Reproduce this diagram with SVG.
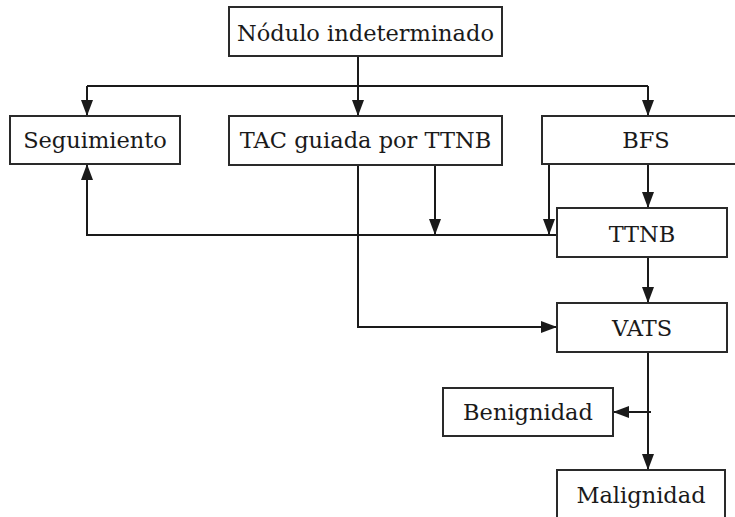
<svg xmlns="http://www.w3.org/2000/svg" width="735" height="517" viewBox="0 0 735 517">
  <defs>
    <marker id="arrow" viewBox="0 0 16 12" refX="16" refY="6" markerWidth="16" markerHeight="12" markerUnits="userSpaceOnUse" orient="auto">
      <path d="M0,0 L16,6 L0,12 Z" fill="#1a1a1a"/>
    </marker>
    <style>
      .box { fill: #ffffff; stroke: #2a2a2a; stroke-width: 2; }
      .lbl { font-family: "DejaVu Serif", "Liberation Serif", serif; font-size: 22.5px; fill: #1a1a1a; text-anchor: middle; }
      .wire { fill: none; stroke: #1a1a1a; stroke-width: 2; }
      .arr { marker-end: url(#arrow); }
    </style>
  </defs>
  <rect width="735" height="517" fill="#ffffff"/>

  <!-- connectors -->
  <g id="connectors">
    <line class="wire" x1="358" y1="56" x2="358" y2="86"/>
    <line class="wire" x1="87" y1="86" x2="648" y2="86"/>
    <line class="wire arr" x1="87" y1="86" x2="87" y2="116"/>
    <line class="wire arr" x1="358" y1="86" x2="358" y2="116"/>
    <line class="wire arr" x1="648" y1="86" x2="648" y2="116"/>
    <line class="wire arr" x1="435" y1="165" x2="435" y2="235"/>
    <line class="wire arr" x1="549" y1="164" x2="549" y2="235"/>
    <line class="wire arr" x1="648" y1="164" x2="648" y2="208"/>
    <polyline class="wire arr" points="557,235 87,235 87,164"/>
    <polyline class="wire arr" points="358,165 358,327 557,327"/>
    <line class="wire arr" x1="648" y1="257" x2="648" y2="303"/>
    <line class="wire arr" x1="648" y1="352" x2="648" y2="470"/>
    <line class="wire arr" x1="651" y1="412" x2="613" y2="412"/>
  </g>

  <g id="n-nodulo">
    <rect class="box" x="229" y="7" width="273" height="49"/>
    <text class="lbl" x="365.5" y="41">Nódulo indeterminado</text>
  </g>
  <g id="n-seguimiento">
    <rect class="box" x="10" y="116" width="170" height="48"/>
    <text class="lbl" x="95" y="148">Seguimiento</text>
  </g>
  <g id="n-tac">
    <rect class="box" x="229" y="116" width="273" height="49"/>
    <text class="lbl" x="365.5" y="148">TAC guiada por TTNB</text>
  </g>
  <g id="n-bfs">
    <rect class="box" x="542" y="116" width="200" height="48"/>
    <text class="lbl" x="646" y="148">BFS</text>
  </g>
  <g id="n-ttnb">
    <rect class="box" x="557" y="208" width="170" height="49"/>
    <text class="lbl" x="642" y="242">TTNB</text>
  </g>
  <g id="n-vats">
    <rect class="box" x="557" y="303" width="170" height="49"/>
    <text class="lbl" x="642" y="336">VATS</text>
  </g>
  <g id="n-benignidad">
    <rect class="box" x="443" y="388" width="170" height="48"/>
    <text class="lbl" x="528" y="420">Benignidad</text>
  </g>
  <g id="n-malignidad">
    <rect class="box" x="557" y="470" width="168" height="60"/>
    <text class="lbl" x="641" y="503">Malignidad</text>
  </g>
</svg>
